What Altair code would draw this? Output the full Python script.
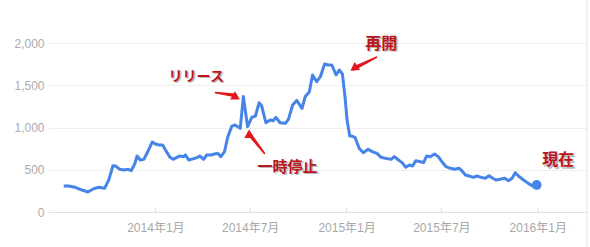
import altair as alt
import pandas as pd

# Weekly search interest (sampled along the curve)
dates = [
    "2013-07-10", "2013-07-19", "2013-08-01", "2013-08-14", "2013-08-25", "2013-09-05",
    "2013-09-15", "2013-09-26", "2013-10-04", "2013-10-12", "2013-10-17", "2013-10-25",
    "2013-11-02", "2013-11-10", "2013-11-16", "2013-11-23", "2013-11-27", "2013-12-03",
    "2013-12-10", "2013-12-19", "2013-12-26",
    "2014-01-01", "2014-01-08", "2014-01-15", "2014-01-21", "2014-01-29", "2014-02-04",
    "2014-02-11", "2014-02-17", "2014-02-24", "2014-02-27", "2014-03-06", "2014-03-15",
    "2014-03-23", "2014-03-27", "2014-04-03", "2014-04-09", "2014-04-17", "2014-04-24",
    "2014-04-30", "2014-05-06", "2014-05-13", "2014-05-19", "2014-05-27", "2014-06-02",
    "2014-06-12", "2014-06-18", "2014-06-26", "2014-07-04", "2014-07-11", "2014-07-18",
    "2014-07-23", "2014-07-31", "2014-08-08", "2014-08-14", "2014-08-19", "2014-08-27",
    "2014-09-06", "2014-09-12", "2014-09-20", "2014-09-28", "2014-10-08", "2014-10-14",
    "2014-10-22", "2014-10-28", "2014-11-05", "2014-11-12", "2014-11-20", "2014-11-27",
    "2014-12-04", "2014-12-12", "2014-12-18", "2014-12-24", "2014-12-29",
    "2015-01-02", "2015-01-07", "2015-01-11", "2015-01-17", "2015-01-25", "2015-02-02",
    "2015-02-11", "2015-02-19", "2015-02-28", "2015-03-08", "2015-03-16", "2015-03-27",
    "2015-04-02", "2015-04-10", "2015-04-17", "2015-04-24", "2015-05-01", "2015-05-07",
    "2015-05-13", "2015-05-22", "2015-05-28", "2015-06-03", "2015-06-10", "2015-06-18",
    "2015-06-25", "2015-07-02", "2015-07-10", "2015-07-18", "2015-07-26", "2015-08-04",
    "2015-08-09", "2015-08-16", "2015-08-23", "2015-08-31", "2015-09-07", "2015-09-15",
    "2015-09-23", "2015-09-30", "2015-10-07", "2015-10-13", "2015-10-21", "2015-10-30",
    "2015-11-06", "2015-11-13", "2015-11-19", "2015-11-25", "2015-12-05", "2015-12-14",
    "2015-12-22", "2015-12-30",
]
values = [
    308, 308, 292, 260, 237, 276, 292, 280, 379, 548, 544, 505, 497, 505, 489, 576, 663, 615,
    623, 734, 828,
    805, 793, 793, 726, 647, 623, 647, 663, 655, 675, 615, 631, 647, 663, 623, 675, 675, 686,
    694, 655, 714, 884, 1017, 1029, 990, 1368, 1009, 1120, 1136, 1293, 1254, 1056, 1088, 1080,
    1120, 1056, 1049, 1096, 1266, 1320, 1227, 1364, 1423, 1621, 1542, 1601, 1751, 1739, 1739,
    1621, 1680, 1633, 1364,
    1088, 899, 899, 884, 754, 702, 742, 714, 694, 647, 635, 623, 655, 615, 584, 529, 556, 544,
    607, 595, 584, 663, 655, 686, 655, 595, 536, 517, 505, 517, 489, 438, 426, 410, 426, 410,
    399, 430, 399, 379, 387, 399, 371, 399, 465, 426, 379, 339, 308, 320,
]

y_ticks = [0, 500, 1000, 1500, 2000]
x_tick_dates = ["2014-01-01", "2014-07-01", "2015-01-01", "2015-07-01", "2016-01-01"]

# Callouts
label_text = ["リリース", "一時停止", "再開", "現在"]
label_date = ["2014-03-20", "2014-09-10", "2015-03-08", "2016-02-09"]
label_value = [1601, 538, 1994, 615]
label_size = [14, 15, 16, 16]

# Arrows: tail point and head point for each callout arrow
arrow_name = ["release", "pause", "resume"]
arrow_tail_date = ["2014-04-26", "2014-07-28", "2015-02-27"]
arrow_tail_value = [1412, 695, 1831]
arrow_head_date = ["2014-06-02", "2014-06-29", "2015-01-15"]
arrow_head_value = [1380, 927, 1700]
arrow_angle = [98, 322, 245]

series = pd.DataFrame({"date": pd.to_datetime(dates), "value": values})
last = series.tail(1)
trail_rows = []
for i, n in enumerate(arrow_name):
    trail_rows.append({"arrow": n, "ord": 0, "date": arrow_tail_date[i],
                       "value": arrow_tail_value[i], "w": 1.2})
    trail_rows.append({"arrow": n, "ord": 1, "date": arrow_head_date[i],
                       "value": arrow_head_value[i], "w": 4.5})
trails = pd.DataFrame(trail_rows)
trails["date"] = pd.to_datetime(trails["date"])
heads = pd.DataFrame({"arrow": arrow_name, "date": pd.to_datetime(arrow_head_date),
                      "value": arrow_head_value, "angle": arrow_angle})
ticks = pd.DataFrame({"date": pd.to_datetime(x_tick_dates)})

FONT = "'Liberation Sans', 'Noto Sans CJK JP', sans-serif"
JP = "'Noto Sans CJK JP', sans-serif"
BLUE = "#4684ea"
RED_TEXT = "#bb161c"
RED_ARROW = "#e3171b"

x_scale = alt.Scale(type="utc", domain=[alt.DateTime(year=2013, month=6, date=10, utc=True),
                                        alt.DateTime(year=2016, month=4, date=4, utc=True)])
y_scale = alt.Scale(domain=[0, 2000], nice=False)

x_enc = alt.X(
    "date:T", scale=x_scale, title=None,
    axis=alt.Axis(
        values=[alt.DateTime(year=int(d[:4]), month=int(d[5:7]), date=1, utc=True) for d in x_tick_dates],
        labelExpr="utcFormat(datum.value, '%Y年%-m月')",
        grid=False, ticks=False, domain=True, domainColor="#e2e2e2",
        labelColor="#a8a8a8", labelFontSize=12, labelFont=FONT, labelPadding=10,
    ),
)
y_enc = alt.Y(
    "value:Q", scale=y_scale, title=None,
    axis=alt.Axis(
        values=y_ticks, format=",.0f", grid=True, gridColor="#efefef", ticks=False,
        domain=False, labelColor="#ababab", labelFontSize=12, labelFont=FONT,
        labelPadding=4,
    ),
)

line = alt.Chart(series).mark_line(color=BLUE, strokeWidth=3, strokeJoin="round").encode(
    x=x_enc, y=y_enc
)
dot = alt.Chart(last).mark_point(filled=True, color=BLUE, size=95, opacity=1).encode(
    x="date:T", y="value:Q"
)

tick_marks = alt.Chart(ticks).mark_rule(color="#dedede", strokeWidth=1).encode(
    x="date:T", y=alt.value(165), y2=alt.value(169)
)
frame = alt.Chart(ticks.head(1)).mark_rule(color="#e6e6e6", strokeWidth=1).encode(
    x=alt.value(539), y=alt.value(-43), y2=alt.value(204)
)

arrow_shafts = alt.Chart(trails).mark_trail(color=RED_ARROW).encode(
    x="date:T", y="value:Q", detail="arrow:N", order="ord:Q",
    size=alt.Size("w:Q", scale=alt.Scale(type="identity"), legend=None),
)
arrow_heads = alt.Chart(heads).mark_point(
    shape="triangle-up", filled=True, color=RED_ARROW, size=95, opacity=1
).encode(
    x="date:T", y="value:Q",
    angle=alt.Angle("angle:Q", scale=alt.Scale(type="identity")),
)

# One text layer per callout so each keeps its own font size; a soft grey
# copy underneath gives the drop shadow.
label_layers = []
for txt, d, v, fs in zip(label_text, label_date, label_value, label_size):
    row = pd.DataFrame({"text": [txt], "date": [pd.Timestamp(d)], "value": [v]})
    base = alt.Chart(row)
    label_layers.append(base.mark_text(
        font=JP, fontWeight="bold", fontSize=fs, color="#7a7a7a", opacity=0.5,
        dx=1.5, dy=1.5, align="center", baseline="middle",
    ).encode(x="date:T", y="value:Q", text="text:N"))
    label_layers.append(base.mark_text(
        font=JP, fontWeight="bold", fontSize=fs, color=RED_TEXT,
        align="center", baseline="middle",
    ).encode(x="date:T", y="value:Q", text="text:N"))

chart = alt.layer(
    tick_marks, frame, line, dot, arrow_shafts, arrow_heads, *label_layers
).properties(
    width=539, height=169,
    padding={"left": 48, "top": 43, "right": 3, "bottom": 35},
    autosize=alt.AutoSizeParams(type="none"),
    background="white",
).configure_view(stroke=None)

chart.save("out.html", embed_options={"renderer": "svg", "actions": False})
